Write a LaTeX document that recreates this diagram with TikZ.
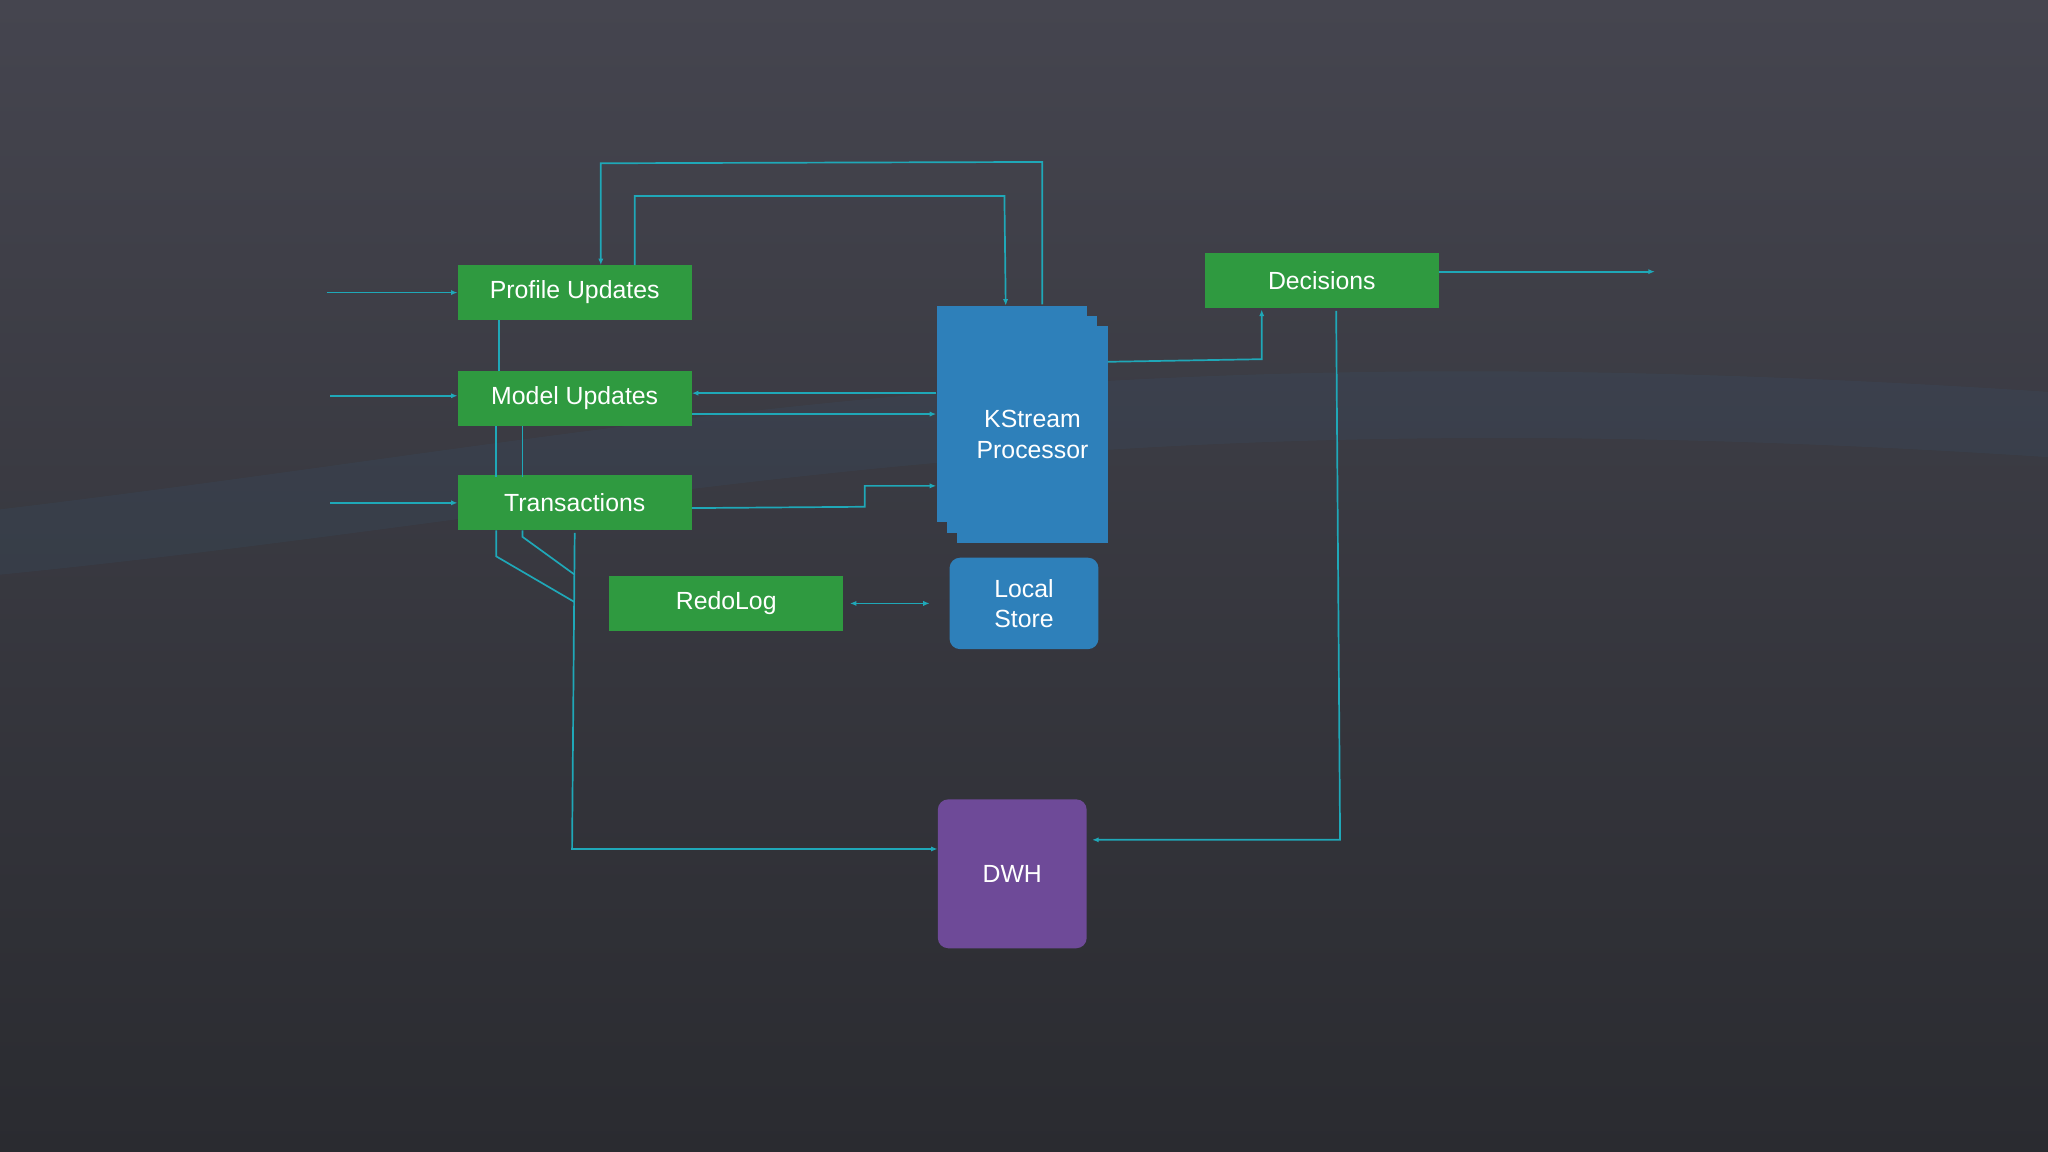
\documentclass[tikz,border=0pt]{standalone}
\usepackage{fontspec}
\setmainfont{Liberation Sans}
\usetikzlibrary{arrows.meta,calc}
\definecolor{bgtop}{HTML}{45454F}
\definecolor{bgbot}{HTML}{2A2B30}
\definecolor{wire}{HTML}{1FA8B8}
\definecolor{topicgreen}{HTML}{2F9A40}
\definecolor{procblue}{HTML}{2E80BA}
\definecolor{dwhpurple}{HTML}{6E4A98}
\begin{document}
\begin{tikzpicture}[
    x=1pt, y=-1pt,
    topic/.style={rectangle, fill=topicgreen, text=white, minimum width=179pt, minimum height=42pt, font=\fontsize{19}{22}\selectfont, inner sep=0pt},
    proc/.style={rectangle, fill=procblue, minimum width=115pt, minimum height=166pt, inner sep=0pt},
    store/.style={rectangle, rounded corners=8pt, text=white, align=center, font=\fontsize{19}{23}\selectfont, inner sep=0pt},
    wire/.style={draw=wire, line width=1.3pt},
    arrow/.style={wire, -{Latex[length=5pt,width=4pt]}}
]
\shade[top color=bgtop, bottom color=bgbot] (0,0) rectangle (1568,882);
\useasboundingbox (0,0) rectangle (1568,882);
% faint wave
\fill[procblue, opacity=0.07] (0,390) .. controls (500,330) and (800,250) .. (1568,300) -- (1568,350) .. controls (800,300) and (500,390) .. (0,440) -- cycle;

% topics
\node[topic] (profile) at (440,224) {Profile Updates};
\node[topic] (model) at (440,305) {Model Updates};
\node[topic] (trans) at (440,385) {Transactions};
\node[topic] (redo) at (556,462) {RedoLog};
\node[topic] (decide) at (1012,215) {Decisions};

% processor stack
\node[proc] (kback) at (774.5,317) {};
\node[proc] (kmid) at (782.5,325) {};
\node[proc, text=white, align=center, font=\fontsize{19}{24}\selectfont] (kstream) at (790.5,332.5) {KStream\\Processor};
\node[store, fill=procblue, minimum width=114pt, minimum height=70pt] (local) at (784,462) {Local\\Store};
\node[store, fill=dwhpurple, minimum width=114pt, minimum height=114pt] (dwh) at (775,669) {DWH};

% inputs
\coordinate (in1) at (250,224);
\coordinate (in2) at (253,303);
\coordinate (in3) at (253,385);
\draw[arrow] (in1) -- (profile.west);
\draw[arrow] (in2) -- (in2 -| model.west);
\draw[arrow] (in3) -- (trans.west);

% loops over the top
\draw[arrow] (798,233) -- (798,124) -- (460,125) -- (460,203);
\draw[arrow] (486,203) -- (486,150) -- (769,150) -- (770,234);

% between topics
\draw[wire] (382,245) -- (382,284);
\draw[wire] (380,326) -- (380,365);
\draw[wire] (400,326) -- (400,365);
\draw[arrow] (kback.west |- 0,301) -- (model.east |- 0,301);
\draw[arrow] (model.east |- 0,317) -- (kback.west |- 0,317);
\draw[arrow] (trans.east |- 0,389) -- (662,388) -- (662,372) -- (kback.west |- 0,372);

% to the warehouse
\draw[wire] (380,406) -- (380,426) -- (440,461);
\draw[wire] (400,406) -- (400,411) -- (440,440);
\draw[arrow] (440,408) -- (438,650) -- (dwh.west |- 0,650);
\draw[{Latex[length=5pt,width=4pt]}-{Latex[length=5pt,width=4pt]}, wire] ([xshift=5pt]redo.east) -- ([xshift=-15pt]local.west);

% decisions
\draw[arrow] (kstream.east |- 0,277) -- (966,275) -- (966,237);
\draw[arrow] (decide.east |- 0,208) -- (1267,208);
\draw[arrow] (1023,238) -- (1026,643) -- ([xshift=4pt]dwh.east |- 0,643);
\end{tikzpicture}
\end{document}
